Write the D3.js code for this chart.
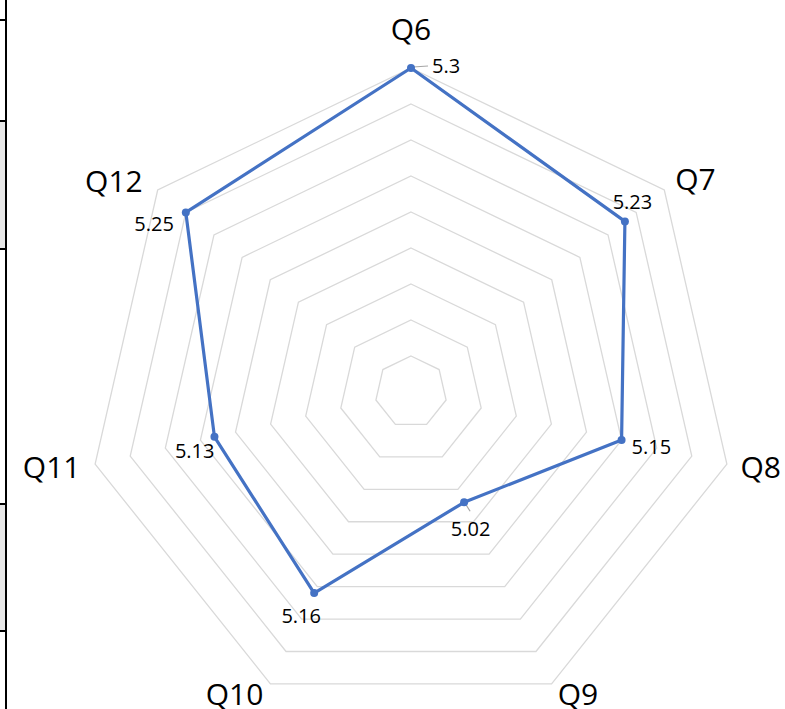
<!DOCTYPE html>
<html>
<head>
<meta charset="utf-8">
<script src="https://cdn.jsdelivr.net/npm/d3@7"></script>
<style>
  html, body { margin: 0; padding: 0; background: #ffffff; }
  svg { display: block; }
</style>
</head>
<body>
<svg id="chart" width="785" height="709"></svg>
<script>
// ---- data ----
const categories = ["Q6", "Q7", "Q8", "Q9", "Q10", "Q11", "Q12"];
const values = [5.3, 5.23, 5.15, 5.02, 5.16, 5.13, 5.25];
const ringValues = [4.9, 4.95, 5.0, 5.05, 5.1, 5.15, 5.2, 5.25, 5.3];
const axisMin = 4.85;
const axisMax = 5.3;

// ---- layout (positions / styles, separate from data) ----
const W = 785, H = 709;
const cx = 411, cy = 392, R = 324;
const labelPad = 14;
// category label nudges: [dx, dy]
const catNudge = [[0, -25], [0, -2], [0, 0], [0, -2], [-1, -2], [-1, 0], [-4, 0]];
// data label placement relative to the point: [dx, dy, anchor, leader]
const dataLabelLayout = [
  [21, 5, "start", true],
  [7.5, -12, "middle", false],
  [10, 14, "start", false],
  [6.5, 34, "middle", true],
  [-13, 30, "middle", false],
  [0, 21, "end", false],
  [-12, 19, "end", false]
];

const svg = d3.select("#chart");

// left-edge table fragment
const edge = svg.append("g");
[[121, 249], [504, 631]].forEach(([y0, y1]) => {
  edge.append("rect").attr("x", 0).attr("y", y0).attr("width", 5).attr("height", y1 - y0)
    .attr("fill", "#e7e7e7");
});
edge.append("line").attr("x1", 6).attr("x2", 6).attr("y1", 0).attr("y2", H)
  .attr("stroke", "#000").attr("stroke-width", 2);
[20, 121, 249, 504, 631].forEach(y => {
  edge.append("line").attr("x1", 0).attr("x2", 6).attr("y1", y).attr("y2", y)
    .attr("stroke", "#000").attr("stroke-width", 2);
});

const r = d3.scaleLinear().domain([axisMin, axisMax]).range([0, R]);
const angle = d3.scaleLinear().domain([0, categories.length]).range([0, 2 * Math.PI]);

function pt(i, radius) {
  const a = angle(i);
  return [cx + radius * Math.sin(a), cy - radius * Math.cos(a)];
}

// grid rings
const grid = svg.append("g");
ringValues.forEach(v => {
  const pts = categories.map((c, i) => pt(i, r(v)));
  grid.append("polygon")
    .attr("points", pts.map(p => p.join(",")).join(" "))
    .attr("fill", "none")
    .attr("stroke", "#d9d9d9")
    .attr("stroke-width", 1.3);
});

// category labels
const fontFam = "'Open Sans', 'Noto Sans', sans-serif";
categories.forEach((c, i) => {
  const a = angle(i);
  const s = Math.sin(a);
  const [x, y] = pt(i, R + labelPad);
  const anchor = s > 0.1 ? "start" : (s < -0.1 ? "end" : "middle");
  svg.append("text")
    .attr("x", x + catNudge[i][0]).attr("y", y + catNudge[i][1])
    .attr("dy", "0.36em")
    .attr("text-anchor", anchor)
    .attr("font-family", fontFam)
    .attr("font-size", 30)
    .attr("fill", "#000")
    .text(c);
});

// series line
const line = d3.line().curve(d3.curveLinearClosed);
const dataPts = values.map((v, i) => pt(i, r(v)));
svg.append("path")
  .attr("d", line(dataPts))
  .attr("fill", "none")
  .attr("stroke", "#4472c4")
  .attr("stroke-width", 3.2)
  .attr("stroke-linejoin", "round");

// leader lines + data labels
values.forEach((v, i) => {
  const [x, y] = dataPts[i];
  const [dx, dy, anchor, leader] = dataLabelLayout[i];
  if (leader) {
    if (dx > 15) {
      svg.append("line").attr("x1", x + 2).attr("y1", y - 1).attr("x2", x + dx - 4).attr("y2", y - 2)
        .attr("stroke", "#a6a6a6").attr("stroke-width", 1.2);
    } else {
      svg.append("line").attr("x1", x + 1).attr("y1", y + 1).attr("x2", x + 6).attr("y2", y + 9)
        .attr("stroke", "#a6a6a6").attr("stroke-width", 1.2);
    }
  }
  svg.append("text")
    .attr("x", x + dx).attr("y", y + dy)
    .attr("text-anchor", anchor)
    .attr("font-family", fontFam)
    .attr("font-size", 20)
    .attr("fill", "#000")
    .text(v);
});

// markers
svg.append("g").selectAll("circle")
  .data(dataPts)
  .join("circle")
  .attr("cx", d => d[0]).attr("cy", d => d[1])
  .attr("r", 4)
  .attr("fill", "#4472c4");
</script>
</body>
</html>
